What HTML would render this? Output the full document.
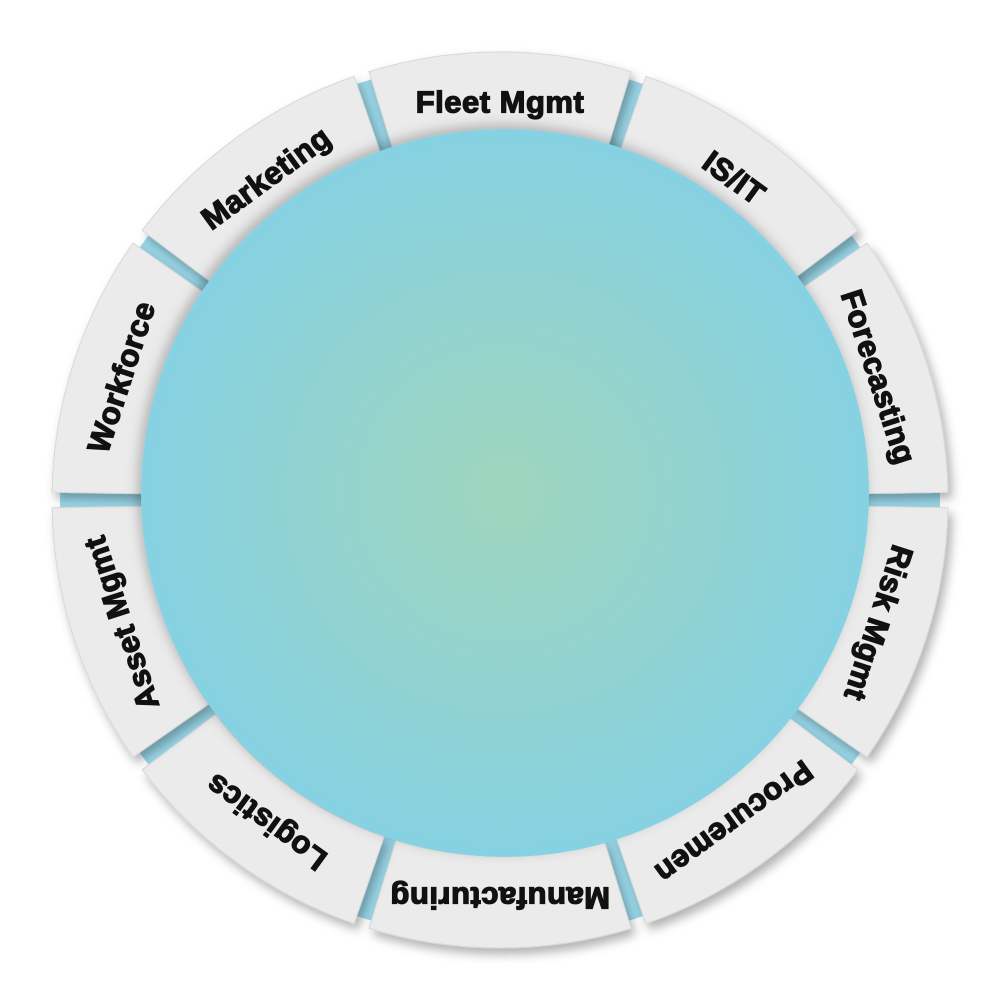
<!DOCTYPE html>
<html><head><meta charset="utf-8">
<style>
html,body{margin:0;padding:0;background:#fff;width:1000px;height:1000px;overflow:hidden}
svg{display:block}
text{font-family:"Liberation Sans",Arial,sans-serif;font-weight:bold;font-size:31px;fill:#111;stroke:#111;stroke-width:1.3px;letter-spacing:0.5px}
</style></head>
<body>
<svg id="s" width="1000" height="1000" viewBox="0 0 1000 1000">
<defs>
<radialGradient id="g" cx="50%" cy="50%" r="50%">
<stop offset="0" stop-color="#9fd5bd"/>
<stop offset="1" stop-color="#86d1e2"/>
</radialGradient>
<filter id="sh" x="-20%" y="-20%" width="140%" height="140%">
<feDropShadow dx="4" dy="6" stdDeviation="5" flood-color="#000" flood-opacity="0.3"/>
</filter>
<filter id="ish" x="-20%" y="-20%" width="140%" height="140%">
<feDropShadow dx="-3" dy="-4" stdDeviation="6" flood-color="#000" flood-opacity="0.25"/>
</filter>
</defs>
<circle cx="500" cy="500" r="440" fill="#9ad8ea"/>
<g id="segs"></g>
<circle cx="505" cy="493" r="364" fill="url(#g)" filter="url(#ish)"/>
<g id="labels"></g>
</svg>
<script>
var cx=500,cy=500,R=448,r=356,gap=1.0;
var names=["Fleet Mgmt","IS/IT","Forecasting","Risk Mgmt","Procuremen","Manufacturing","Logistics","Asset Mgmt","Workforce","Marketing"];
function p(rad,a){a=a*Math.PI/180;return (cx+rad*Math.sin(a)).toFixed(1)+","+(cy-rad*Math.cos(a)).toFixed(1);}
var segs="",labs="";
for(var i=0;i<10;i++){
 var c=i*36,a1=c-18+gap,a2=c+18-gap;
 segs+='<path d="M'+p(R,a1)+' A'+R+','+R+' 0 0 1 '+p(R,a2)+' L'+p(r,a2)+' A'+r+','+r+' 0 0 0 '+p(r,a1)+' Z" fill="#ebebeb" stroke="#d8d8d8" stroke-width="1" filter="url(#sh)"/>';
 var tr=398,a=c*Math.PI/180,x=cx+tr*Math.sin(a),y=cy-tr*Math.cos(a);
 labs+='<text x="0" y="0" text-anchor="middle" dominant-baseline="central" transform="translate('+x.toFixed(1)+','+y.toFixed(1)+') rotate('+c+')">'+names[i]+'</text>';
}
document.getElementById("segs").innerHTML=segs;
document.getElementById("labels").innerHTML=labs;
</script>
</body></html>
